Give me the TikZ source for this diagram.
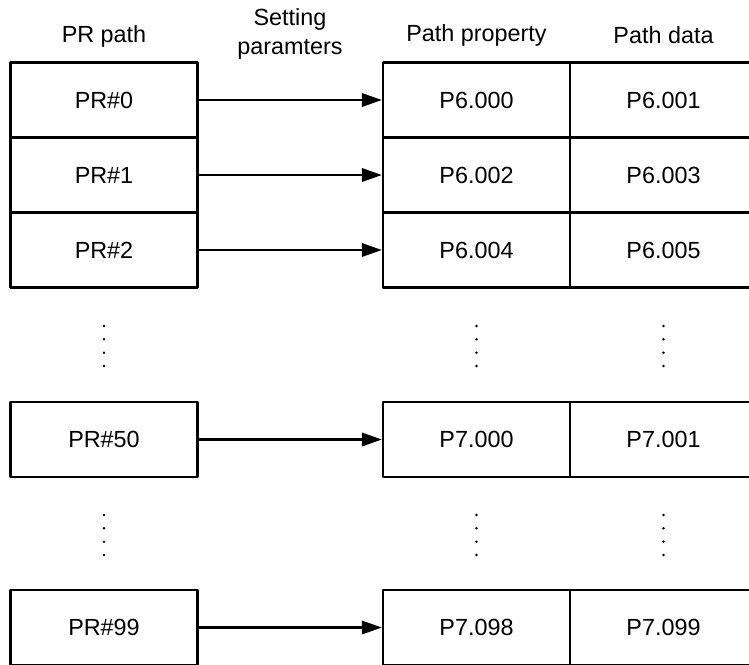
\documentclass[tikz,border=0pt]{standalone}
\usepackage{fontspec}
\setmainfont{Liberation Sans}
\usetikzlibrary{arrows.meta}
\begin{document}
\begin{tikzpicture}[x=0.02cm,y=-0.02cm,line join=round,>={Triangle[length=0.4cm,width=0.27cm]},
		cell/.style={draw,line width=1.4pt,minimum width=3.74cm,minimum height=1.5cm,inner sep=0pt,font=\fontsize{13.3}{16}\selectfont},
		head/.style={align=center,font=\fontsize{13.3}{16}\selectfont}]
				\useasboundingbox (0,0) rectangle (749,664);
				\node[head] (hPR) at (104,36) {PR path};
				\node[head] (hSet) at (290,34) {Setting\\paramters};
				\node[head] (hProp) at (476.5,35) {Path property};
				\node[head] (hData) at (663.5,35) {Path data};
				\foreach \n/\y/\a/\b in {0/100/P6.000/P6.001,1/175/P6.002/P6.003,2/250/P6.004/P6.005,50/439.5/P7.000/P7.001,99/627.5/P7.098/P7.099}{
					\node[cell] (pr\n) at (104,\y) {PR\#\n};
					\node[cell] (prop\n) at (476.5,\y) {\a};
					\node[cell] (data\n) at (663.5,\y) {\b};
					\draw[->,line width=1.2pt] (pr\n) -- (prop\n);}
				\foreach \x in {104,476.5,663.5}{\foreach \y in {326,339.3,352.7,366,515,528.3,541.7,555}{\fill (\x,\y) circle (0.028cm);}}
			\end{tikzpicture}
\end{document}
